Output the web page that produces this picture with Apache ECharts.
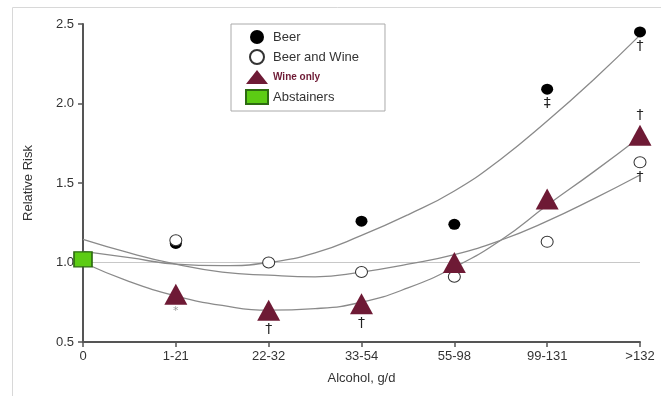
<!DOCTYPE html>
<html><head><meta charset="utf-8">
<script src="https://cdn.jsdelivr.net/npm/echarts@6/dist/echarts.min.js"></script>
<style>html,body{margin:0;padding:0;background:#fff}#c{width:661px;height:396px}</style>
</head><body><div id="c"></div>
<script>
const categories = ['0', '1-21', '22-32', '33-54', '55-98', '99-131', '>132'];
const beer =        [null, 1.12, null, 1.26, 1.24, 2.09, 2.45];
const beerWine =    [null, 1.14, 1.00, 0.94, 0.91, 1.13, 1.63];
const wineOnly =    [null, 0.80, 0.70, 0.74, 1.00, 1.40, 1.80];
const abstainers =  [1.02, null, null, null, null, null, null];
// fitted curves at half-category steps
const fitX =        [0, 0.5, 1, 1.5, 2, 2.5, 3, 3.5, 4, 4.5, 5, 5.5, 6];
const beerFit =     [1.07, 1.03, 0.99, 0.98, 1.00, 1.06, 1.17, 1.30, 1.45, 1.65, 1.89, 2.15, 2.43];
const beerWineFit = [1.145, 1.06, 0.99, 0.94, 0.92, 0.91, 0.94, 0.99, 1.05, 1.14, 1.26, 1.40, 1.55];
const wineFit =     [1.00, 0.88, 0.79, 0.73, 0.70, 0.71, 0.75, 0.84, 0.97, 1.14, 1.36, 1.57, 1.79];
const refLine =     [1.0, 1.0];
const beerMarks =     ['', '', '', '', '', '‡', '†'];
const beerWineMarks = ['', '', '', '', '', '', '†'];
const wineMarks =     ['', '*', '†', '†', '', '', '†'];
const yTicks = [0.5, 1.0, 1.5, 2.0, 2.5];

function withMarks(vals, marks, pos) {
  const out = [];
  vals.forEach((v, i) => {
    if (v == null) return;
    if (!marks || !marks[i]) { out.push([i, v]); return; }
    const p = (typeof pos === 'function') ? pos(i) : pos;
    out.push({ value: [i, v], label: { show: true, formatter: marks[i], position: p, distance: marks[i]==='*'?1:2,
      color: marks[i]==='*' ? '#999' : '#222', fontSize: marks[i]==='*' ? 11 : 14, fontFamily: 'DejaVu Sans' } });
  });
  return out;
}
const pairs = (xs, ys) => xs.map((x, i) => [x, ys[i]]);

const chart = echarts.init(document.getElementById('c'));
const fitLine = (ys) => ({ type: 'line', data: pairs(fitX, ys), smooth: true, symbol: 'none', silent: true, z: 1,
  lineStyle: { color: '#8a8a8a', width: 1.3 }, tooltip: { show: false } });
chart.setOption({
  animation: false,
  textStyle: { fontFamily: 'Liberation Sans' },
  graphic: [{ type: 'rect', shape: { x: 12.5, y: 7.5, width: 700, height: 500 }, style: { fill: 'none', stroke: '#d8d8d8', lineWidth: 1 }, silent: true }],
  grid: { left: 83, right: 21, top: 24, bottom: 54, containLabel: false },
  legend: {
    orient: 'vertical', left: 231, top: 24,
    padding: [6, 26, 6, 14], itemGap: 5, itemWidth: 22, itemHeight: 14,
    borderColor: '#aaa', borderWidth: 1,
    textStyle: { color: '#333', fontSize: 13 },
    data: [
      { name: 'Beer' },
      { name: 'Beer and Wine' },
      { name: 'Wine only', textStyle: { color: '#6e1a35', fontWeight: 'bold', fontSize: 10 } },
      { name: 'Abstainers' }
    ]
  },
  xAxis: {
    type: 'value', min: 0, max: categories.length - 1, interval: 1,
    name: 'Alcohol, g/d', nameLocation: 'middle', nameGap: 30,
    nameTextStyle: { fontSize: 13, color: '#333' },
    axisLine: { lineStyle: { color: '#555', width: 2 } },
    axisTick: { show: true, length: 5, lineStyle: { color: '#555', width: 1.5 } },
    axisLabel: { color: '#333', fontSize: 13, margin: 8, formatter: v => categories[v] },
    splitLine: { show: false }
  },
  yAxis: {
    type: 'value', min: yTicks[0], max: yTicks[yTicks.length - 1], interval: 0.5,
    name: 'Relative Risk', nameLocation: 'middle', nameGap: 48,
    nameTextStyle: { fontSize: 13, color: '#333' },
    axisLine: { show: true, lineStyle: { color: '#555', width: 2 } },
    axisTick: { show: true, length: 5, lineStyle: { color: '#555', width: 1.5 } },
    axisLabel: { color: '#333', fontSize: 13, margin: 9, formatter: v => v.toFixed(1) },
    splitLine: { show: false }
  },
  series: [
    { type: 'line', data: [[0, refLine[0]], [categories.length - 1, refLine[1]]], symbol: 'none', silent: true, z: 0, lineStyle: { color: '#c8c8c8', width: 1 } },
    fitLine(beerFit), fitLine(beerWineFit), fitLine(wineFit),
    { name: 'Beer', type: 'scatter', z: 3, symbol: 'circle', symbolSize: [12, 11],
      itemStyle: { color: '#000', opacity: 1 }, data: withMarks(beer, beerMarks, 'bottom') },
    { name: 'Beer and Wine', type: 'scatter', z: 4, symbol: 'circle', symbolSize: [12, 11],
      itemStyle: { color: '#fff', borderColor: '#333', borderWidth: 1, opacity: 1 }, data: withMarks(beerWine, beerWineMarks, 'bottom') },
    { name: 'Wine only', type: 'scatter', z: 5, symbol: 'triangle', symbolSize: [23, 21],
      itemStyle: { color: '#6e1a35', opacity: 1 }, data: withMarks(wineOnly, wineMarks, i => i === 6 ? 'top' : 'bottom') },
    { name: 'Abstainers', type: 'scatter', z: 6, symbol: 'rect', symbolSize: [18, 15],
      itemStyle: { color: '#5ccc14', borderColor: '#2d6b12', borderWidth: 1.5, opacity: 1 }, data: withMarks(abstainers, null) }
  ]
});
</script></body></html>
